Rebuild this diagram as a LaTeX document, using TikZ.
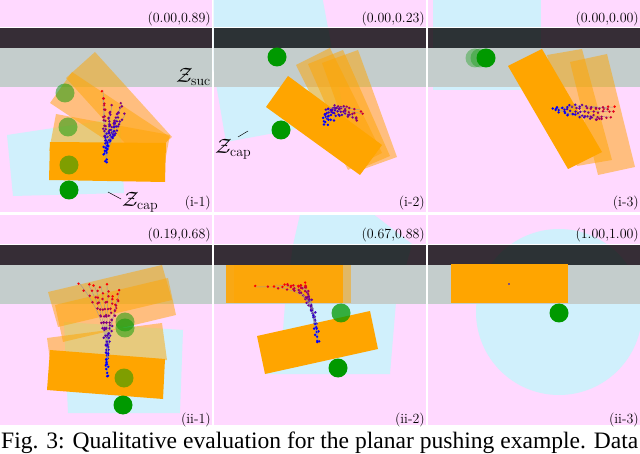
\documentclass[tikz,border=0pt]{standalone}
\usepackage{fontspec}
\usepackage{graphicx}
\newfontfamily\capfont{Liberation Serif}
\definecolor{bgpink}{HTML}{FFD9FF}
\definecolor{bgblue}{HTML}{D0F0FC}
\definecolor{gband}{HTML}{C4CDCC}
\definecolor{blkor}{HTML}{FFA500}
\definecolor{pgreen}{HTML}{009900}
\newcommand\bands[3]{%
  \fill[black, fill opacity=0.79] (#1,#3) rectangle (#2,#3+20);
  \fill[gband] (#1,#3+20) rectangle (#2,#3+59);
  \draw[white, line width=0.7] (#1,#3-0.3) -- (#2,#3-0.3);}
\newcommand\trj[9]{%
  \draw[trjline] (#1,#2) .. controls (#3,#4) and (#5,#6) .. (#7,#8);
  \foreach \i in {0,...,12}{%
    \pgfmathsetmacro\tq{\i/12}%
    \pgfmathsetmacro\uq{1-\tq}%
    \pgfmathsetmacro\px{\uq*\uq*\uq*#1+3*\tq*\uq*\uq*#3+3*\tq*\tq*\uq*#5+\tq*\tq*\tq*#7+1.5*rand}%
    \pgfmathsetmacro\py{\uq*\uq*\uq*#2+3*\tq*\uq*\uq*#4+3*\tq*\tq*\uq*#6+\tq*\tq*\tq*#8+1.5*rand}%
    \pgfmathtruncatemacro\pc{100*\tq*#9}%
    \fill[red!\pc!blue] (\px,\py) circle[radius=1.35];
  }}
\begin{document}
\begin{tikzpicture}[x=1pt,y=-1pt,
  tor/.style={fill=blkor, fill opacity=0.5},
  sor/.style={fill=blkor},
  tgr/.style={fill=pgreen, fill opacity=0.5},
  sgr/.style={fill=pgreen},
  trjline/.style={draw=gray!80, line width=0.4},
  lbl/.style={anchor=east, inner sep=0, font=\fontsize{14}{16}\selectfont},
  zl/.style={inner sep=0, font=\fontsize{20}{22}\selectfont},
  leader/.style={draw=black, line width=0.5}]
\pgfmathsetseed{7}
\useasboundingbox (0,0) rectangle (640,454);
\fill[white] (0,0) rectangle (640,454);

% ---------- panel i-1
\begin{scope}
\clip (0,0) rectangle (212,212);
\fill[bgpink] (0,0) rectangle (212,212);
\fill[bgblue] (7,135) -- (120,118) -- (124,193) -- (13,196) -- cycle;
\bands{0}{212}{28}
\fill[tor] (95,52) -- (172,137) -- (143,163) -- (66,78) -- cycle;
\fill[tor] (72,72) -- (170,137) -- (148,168) -- (50,103) -- cycle;
\fill[tor] (56,114) -- (170,135) -- (163,172) -- (49,151) -- cycle;
\fill[sor] (50,142) -- (166,143) -- (165,182) -- (49,180) -- cycle;
\fill[tgr] (65,93) circle[radius=9.5];
\fill[tgr] (68,127) circle[radius=9.5];
\fill[tgr] (69,165) circle[radius=9.5];
\fill[sgr] (69,190) circle[radius=9.5];
\trj{107}{162}{105}{125}{105}{125}{103}{90}{1}
\trj{106}{160}{104}{128}{104}{128}{103}{98}{0.9}
\trj{107}{158}{108}{130}{108}{130}{112}{105}{0.55}
\trj{105}{155}{112}{130}{112}{130}{120}{108}{0.55}
\trj{108}{150}{115}{132}{115}{132}{125}{115}{0.5}
\trj{104}{152}{108}{132}{108}{132}{110}{112}{0.5}
\trj{106}{148}{112}{134}{112}{134}{116}{120}{0.5}
\trj{108}{145}{116}{122}{116}{122}{122}{103}{0.55}
\end{scope}
\node[lbl] (c1) at (211,19) {(0.00,0.89)};
\node[lbl] (n1) at (211,203) {(i-1)};
\node[zl, anchor=east] (zsuc) at (211,77) {$\mathcal{Z}_{\mathrm{suc}}$};
\node[zl, anchor=west] (zcap1) at (122,202) {$\mathcal{Z}_{\mathrm{cap}}$};
\coordinate (l1a) at (108,192);
\coordinate (l1b) at (121,199);
\draw[leader] (l1a) -- (l1b);

% ---------- panel i-2
\begin{scope}
\clip (213.5,0) rectangle (426.3,212);
\fill[bgpink] (213.5,0) rectangle (426.3,212);
\fill[bgblue] (200,-10) -- (321,-10) -- (345,120) -- (226,142) -- cycle;
\bands{213.5}{426.3}{28}
\fill[tor] (296,65) -- (330,48) -- (382,153) -- (348,170) -- cycle;
\fill[tor] (308,64) -- (343,50) -- (390,156) -- (355,171) -- cycle;
\fill[tor] (322,63) -- (358,50) -- (397,157) -- (361,170) -- cycle;
\fill[sor] (266,107) -- (288,76) -- (382,145) -- (360,175) -- cycle;
\fill[sgr] (277,57) circle[radius=9.5];
\fill[sgr] (281,130) circle[radius=9.5];
\trj{323}{126}{326}{104}{330}{104}{360}{110}{0.8}
\trj{325}{122}{330}{106}{335}{106}{362}{114}{0.8}
\trj{327}{120}{334}{108}{340}{108}{355}{117}{0.6}
\trj{328}{124}{338}{112}{345}{112}{358}{121}{0.6}
\trj{324}{118}{328}{107}{334}{107}{350}{108}{0.6}
\end{scope}
\node[lbl] (c2) at (425,19) {(0.00,0.23)};
\node[lbl] (n2) at (425,203) {(i-2)};
\node[zl, anchor=west] (zcap2) at (215,149) {$\mathcal{Z}_{\mathrm{cap}}$};
\coordinate (l2a) at (238,137);
\coordinate (l2b) at (248,131);
\draw[leader] (l2a) -- (l2b);

% ---------- panel i-3
\begin{scope}
\clip (427.7,0) rectangle (640,212);
\fill[bgpink] (427.7,0) rectangle (640,212);
\fill[bgblue] (433,-5) rectangle (541,90);
\bands{427.7}{640}{28}
\fill[tgr, fill opacity=0.35] (475,58) circle[radius=9.5];
\fill[tgr, fill opacity=0.35] (480,58) circle[radius=9.5];
\fill[sgr] (486,58) circle[radius=9.5];
\fill[tor] (547,55) -- (582,49) -- (612,160) -- (577,166) -- cycle;
\fill[tor] (570,62) -- (607,54) -- (635,167) -- (598,175) -- cycle;
\fill[sor] (508,66) -- (542,49) -- (602,152) -- (568,169) -- cycle;
\trj{552}{109}{570}{108}{590}{108}{615}{107}{1}
\trj{555}{110}{575}{112}{595}{112}{613}{111}{0.9}
\trj{560}{111}{578}{116}{595}{116}{610}{117}{0.8}
\trj{558}{108}{575}{105}{590}{105}{608}{109}{0.8}
\trj{565}{113}{580}{118}{595}{118}{602}{119}{0.7}
\end{scope}
\node[lbl] (c3) at (639,19) {(0.00,0.00)};
\node[lbl] (n3) at (639,203) {(i-3)};

% ---------- panel ii-1
\begin{scope}
\clip (0,215.3) rectangle (212,425);
\fill[bgpink] (0,215.3) rectangle (212,425);
\fill[bgblue] (64,322) -- (183,330) -- (180,413) -- (68,413) -- cycle;
\bands{0}{212}{245}
\fill[tor] (48,292) -- (162,265) -- (172,300) -- (58,327) -- cycle;
\fill[tor] (55,305) -- (168,278) -- (176,315) -- (63,342) -- cycle;
\fill[tor] (47,338) -- (162,323) -- (167,360) -- (52,375) -- cycle;
\fill[sor] (50,350) -- (165,359) -- (163,399) -- (47,390) -- cycle;
\fill[tgr] (125,322) circle[radius=9.5];
\fill[tgr] (125,328) circle[radius=9.5];
\fill[tgr] (124,378) circle[radius=9.5];
\fill[sgr] (123,405) circle[radius=9.5];
\trj{107}{375}{108}{330}{100}{310}{80}{284}{1}
\trj{107}{375}{108}{330}{102}{310}{88}{284}{1}
\trj{107}{373}{108}{330}{104}{310}{94}{285}{1}
\trj{107}{370}{108}{330}{106}{310}{101}{286}{1}
\trj{107}{368}{108}{330}{108}{310}{107}{285}{1}
\trj{107}{365}{108}{330}{111}{310}{112}{295}{1}
\trj{107}{362}{108}{330}{114}{315}{117}{300}{1}
\trj{107}{360}{108}{330}{116}{310}{120}{290}{1}
\end{scope}
\node[lbl] (c4) at (211,235) {(0.19,0.68)};
\node[lbl] (n4) at (211,420) {(ii-1)};

% ---------- panel ii-2
\begin{scope}
\clip (213.5,215.3) rectangle (426.3,425);
\fill[bgpink] (213.5,215.3) rectangle (426.3,425);
\fill[bgblue] (301,210) -- (368,210) -- (412,244) -- (396,302) -- (390,374) -- (265,374) -- (283,330) -- (285,304) -- (293,245) -- cycle;
\bands{213.5}{426.3}{245}
\fill[blkor, fill opacity=0.9] (226,265) rectangle (343,303);
\fill[tor] (234,265) rectangle (351,303);
\fill[sor] (257,336) -- (370,311) -- (378,349) -- (265,374) -- cycle;
\fill[tgr, fill opacity=0.75] (341,313) circle[radius=9.5];
\fill[sgr] (338,368) circle[radius=9.5];
\trj{318}{342}{316}{300}{305}{285}{255}{287}{1}
\trj{318}{342}{315}{302}{305}{286}{275}{285}{1}
\trj{317}{340}{313}{300}{300}{285}{284}{284}{1}
\trj{318}{338}{314}{298}{306}{284}{290}{285}{1}
\trj{316}{335}{312}{298}{308}{286}{298}{285}{1}
\trj{315}{330}{310}{300}{307}{287}{305}{284}{1}
\end{scope}
\node[lbl] (c5) at (425,235) {(0.67,0.88)};
\node[lbl] (n5) at (425,420) {(ii-2)};

% ---------- panel ii-3
\begin{scope}
\clip (427.7,215.3) rectangle (640,425);
\fill[bgpink] (427.7,215.3) rectangle (640,425);
\fill[bgblue] (559,312) circle[radius=83];
\bands{427.7}{640}{245}
\fill[sor] (451,264) rectangle (568,303);
\fill[blue] (509,284) circle[radius=0.9];
\fill[sgr] (559,313) circle[radius=9.5];
\end{scope}
\node[lbl] (c6) at (639,235) {(1.00,1.00)};
\node[lbl] (n6) at (639,420) {(ii-3)};

% ---------- caption
\node[anchor=base west, inner sep=0] (cap) at (1,448) {\resizebox{637pt}{!}{\capfont\fontsize{23}{26}\selectfont Fig. 3: Qualitative evaluation for the planar pushing example. Data}};
\end{tikzpicture}
\end{document}
